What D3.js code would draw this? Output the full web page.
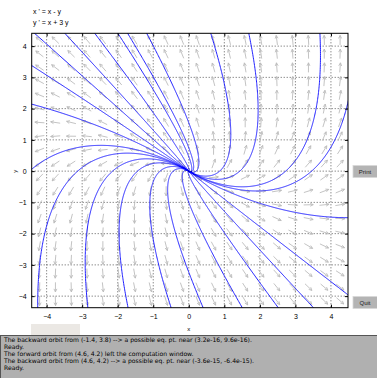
<!DOCTYPE html>
<html>
<head>
<meta charset="utf-8">
<script src="https://cdn.jsdelivr.net/npm/d3@7"></script>
<style>
body { margin: 0; background: #fff; }
svg { display: block; font-family: "Liberation Sans", Arial, sans-serif; }
</style>
</head>
<body>
<svg id="pp" width="377" height="378"></svg>
<script>
// system shown in the title: x' = x - y, y' = x + 3y
var eqLabels = ["x ' = x - y", "y ' = x + 3 y"];
var coefX = [1, -1];
var coefY = [1, 3];

var xTicks = [-4, -3, -2, -1, 0, 1, 2, 3, 4];
var yTicks = [-4, -3, -2, -1, 0, 1, 2, 3, 4];
var xDomain = [-4.42, 4.48];
var yDomain = [-4.37, 4.41];
var fieldCount = 20;

// starting points of the solution curves (read where they meet the window edge)
var seedX = [-4.33, -3.48, -2.64, -1.99, -1.4, -1.18, 0.62, 1.69, 3.69,
             -4.25, -2.84, -1.71, -0.50, 0.40, 1.50, 2.51, 3.50,
             -4.41, -4.41, -4.41,
             4.47, 4.47, 4.47];
var seedY = [4.4, 4.4, 4.4, 4.4, 3.8, 4.4, 4.4, 4.4, 4.4,
             -4.36, -4.36, -4.36, -4.36, -4.36, -4.36, -4.36, -4.36,
             3.37, 2.14, 0.07,
             2.16, -1.49, -3.95];

var messages = [
  "The backward orbit from (-1.4, 3.8) --> a possible eq. pt. near (3.2e-16, 9.6e-16).",
  "Ready.",
  "The forward orbit from (4.6, 4.2) left the computation window.",
  "The backward orbit from (4.6, 4.2) --> a possible eq. pt. near (-3.6e-15, -6.4e-15).",
  "Ready."
];

var svg = d3.select("#pp"),
    margin = {top: 33.3, left: 31.7, right: 29, bottom: 70.3},
    width = 377 - margin.left - margin.right,
    height = 378 - margin.top - margin.bottom;

var x = d3.scaleLinear().domain(xDomain).range([margin.left, margin.left + width]);
var y = d3.scaleLinear().domain(yDomain).range([margin.top + height, margin.top]);

function field(p) {
  return [coefX[0] * p[0] + coefX[1] * p[1], coefY[0] * p[0] + coefY[1] * p[1]];
}

function rk4(p, h) {
  var k1 = field(p);
  var k2 = field([p[0] + h / 2 * k1[0], p[1] + h / 2 * k1[1]]);
  var k3 = field([p[0] + h / 2 * k2[0], p[1] + h / 2 * k2[1]]);
  var k4 = field([p[0] + h * k3[0], p[1] + h * k3[1]]);
  return [p[0] + h / 6 * (k1[0] + 2 * k2[0] + 2 * k3[0] + k4[0]),
          p[1] + h / 6 * (k1[1] + 2 * k2[1] + 2 * k3[1] + k4[1])];
}

function orbit(p0, dir) {
  var pts = [p0], p = p0;
  for (var i = 0; i < 20000; i++) {
    p = rk4(p, dir * 0.004);
    pts.push(p);
    if (dir > 0 && (Math.abs(p[0]) > 8 || Math.abs(p[1]) > 8)) break;
    if (dir < 0 && Math.hypot(p[0], p[1]) < 1e-4) break;
  }
  return pts;
}

svg.append("clipPath").attr("id", "clip")
  .append("rect")
  .attr("x", margin.left).attr("y", margin.top)
  .attr("width", width).attr("height", height);

// title
svg.selectAll(".eq").data(eqLabels).enter().append("text")
  .attr("x", 33).attr("y", function(d, i) { return 13.5 + i * 11.5; })
  .attr("font-size", 7).attr("fill", "#000")
  .text(function(d) { return d; });

// grid
var grid = svg.append("g").attr("stroke", "#333").attr("stroke-dasharray", "1,2").attr("stroke-width", 0.8);
grid.selectAll(".gx").data(xTicks).enter().append("line")
  .attr("x1", function(d) { return x(d); }).attr("x2", function(d) { return x(d); })
  .attr("y1", margin.top).attr("y2", margin.top + height);
grid.selectAll(".gy").data(yTicks).enter().append("line")
  .attr("y1", function(d) { return y(d); }).attr("y2", function(d) { return y(d); })
  .attr("x1", margin.left).attr("x2", margin.left + width);

// direction field
var cells = [];
for (var i = 0; i < fieldCount; i++) {
  for (var j = 0; j < fieldCount; j++) {
    cells.push([xDomain[0] + (i + 0.5) * (xDomain[1] - xDomain[0]) / fieldCount,
                yDomain[0] + (j + 0.5) * (yDomain[1] - yDomain[0]) / fieldCount]);
  }
}
var sx = x(1) - x(0), sy = y(0) - y(1);
svg.append("g").attr("stroke", "#bcbcbc").attr("fill", "none").attr("stroke-width", 0.9)
  .selectAll("path").data(cells).enter().append("path")
  .attr("d", function(d) {
    var v = field(d), dx = v[0] * sx, dy = -v[1] * sy, n = Math.hypot(dx, dy) || 1;
    dx /= n; dy /= n;
    var cx = x(d[0]), cy = y(d[1]), L = 4.8;
    var hx = cx + dx * L, hy = cy + dy * L, a = 0.45, hl = 3.4;
    var l1 = [hx - hl * (dx * Math.cos(a) - dy * Math.sin(a)), hy - hl * (dy * Math.cos(a) + dx * Math.sin(a))];
    var l2 = [hx - hl * (dx * Math.cos(a) + dy * Math.sin(a)), hy - hl * (dy * Math.cos(a) - dx * Math.sin(a))];
    return "M" + (cx - dx * L) + "," + (cy - dy * L) + "L" + hx + "," + hy +
           "M" + l1[0] + "," + l1[1] + "L" + hx + "," + hy + "L" + l2[0] + "," + l2[1];
  });

// solution curves
var line = d3.line().x(function(d) { return x(d[0]); }).y(function(d) { return y(d[1]); });
var orbits = [];
seedX.forEach(function(sxv, i) {
  var p0 = [sxv, seedY[i]];
  var back = orbit(p0, -1).reverse();
  var fwd = orbit(p0, 1);
  orbits.push(back.concat(fwd.slice(1)));
});
svg.append("g").attr("clip-path", "url(#clip)")
  .selectAll("path").data(orbits).enter().append("path")
  .attr("d", line).attr("fill", "none").attr("stroke", "#2020ff").attr("stroke-width", 1);

// frame and ticks
svg.append("rect").attr("x", margin.left).attr("y", margin.top)
  .attr("width", width).attr("height", height)
  .attr("fill", "none").attr("stroke", "#000").attr("stroke-width", 1);

svg.append("g").attr("transform", "translate(0," + (margin.top + height) + ")")
  .call(d3.axisBottom(x).tickValues(xTicks).tickSize(-3).tickPadding(6).tickFormat(d3.format("d")))
  .call(function(g) { g.select(".domain").remove(); g.selectAll("text").attr("font-size", 7).attr("font-family", null); });
svg.append("g").attr("transform", "translate(0," + margin.top + ")")
  .call(d3.axisTop(x).tickValues(xTicks).tickSize(-3).tickFormat(""))
  .call(function(g) { g.select(".domain").remove(); });
svg.append("g").attr("transform", "translate(" + margin.left + ",0)")
  .call(d3.axisLeft(y).tickValues(yTicks).tickSize(-3).tickPadding(5).tickFormat(d3.format("d")))
  .call(function(g) { g.select(".domain").remove(); g.selectAll("text").attr("font-size", 7).attr("font-family", null); });
svg.append("g").attr("transform", "translate(" + (margin.left + width) + ",0)")
  .call(d3.axisRight(y).tickValues(yTicks).tickSize(-3).tickFormat(""))
  .call(function(g) { g.select(".domain").remove(); });

svg.append("text").attr("x", x(0)).attr("y", 331).attr("text-anchor", "middle")
  .attr("font-size", 6).text("x");
svg.append("text").attr("transform", "translate(17," + y(0) + ") rotate(-90)")
  .attr("text-anchor", "middle").attr("font-size", 6).text("y");

// buttons
var buttons = [{label: "Print", top: 165.5}, {label: "Quit", top: 296.5}];
var btn = svg.selectAll(".btn").data(buttons).enter().append("g");
btn.append("rect").attr("x", 353).attr("y", function(d) { return d.top; })
  .attr("width", 26).attr("height", 12).attr("fill", "#b4b4b4").attr("stroke", "#d8d8d8").attr("stroke-width", 0.8);
btn.append("text").attr("x", 365).attr("y", function(d) { return d.top + 8.5; })
  .attr("text-anchor", "middle").attr("font-size", 6).attr("fill", "#222").text(function(d) { return d.label; });

// message area
svg.append("rect").attr("x", 31).attr("y", 324).attr("width", 49).attr("height", 11).attr("fill", "#ebe8e4");
svg.append("rect").attr("x", 0.5).attr("y", 335.5).attr("width", 377).attr("height", 43)
  .attr("fill", "#b0b0b0").attr("stroke", "#555").attr("stroke-width", 1);
svg.selectAll(".msg").data(messages).enter().append("text")
  .attr("x", 4).attr("y", function(d, i) { return 341.5 + i * 7; })
  .attr("font-family", "DejaVu Sans").attr("font-size", 6.1).attr("fill", "#000")
  .text(function(d) { return d; });
</script>
</body>
</html>
